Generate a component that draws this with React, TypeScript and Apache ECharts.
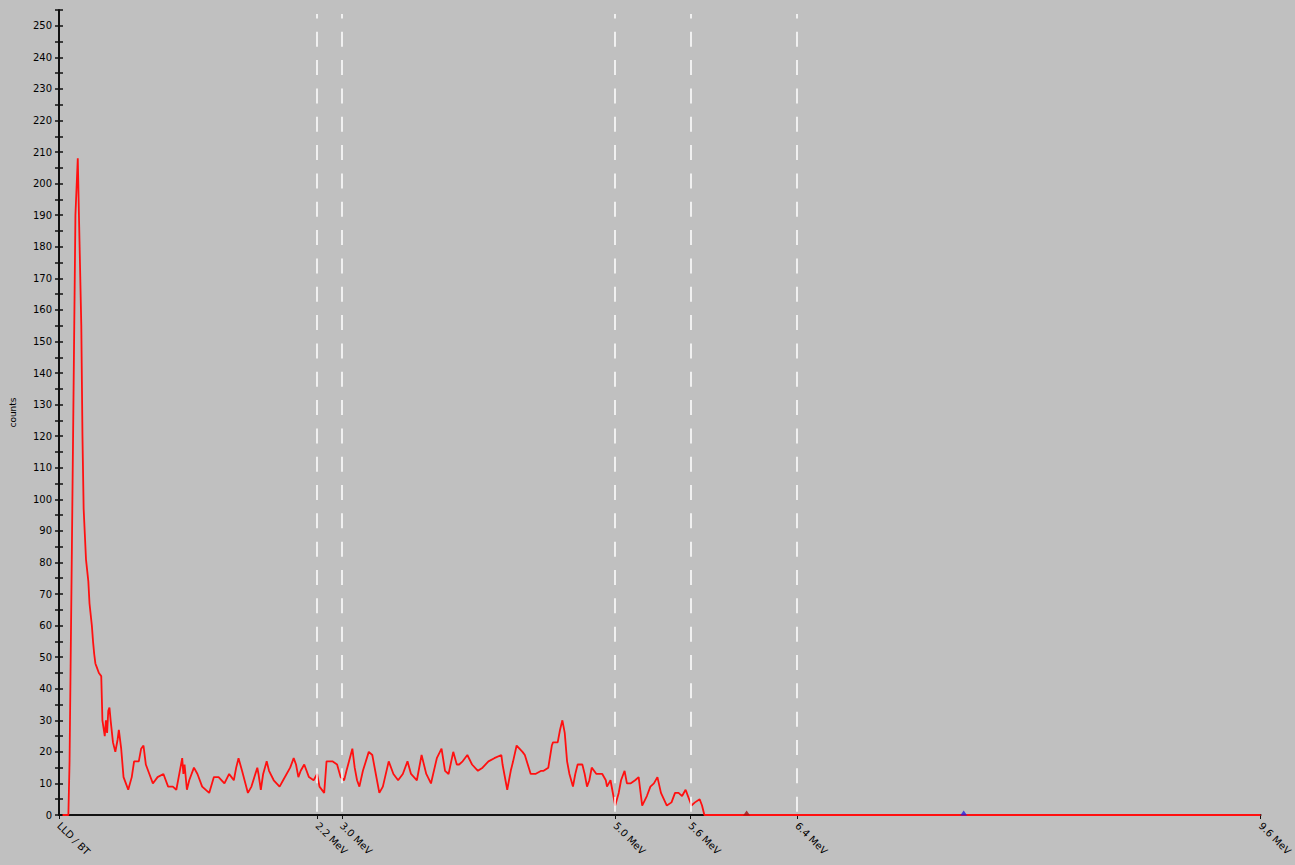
import React, { useEffect, useRef } from "react";
import * as echarts from "echarts";

// Spectrum channels (0..1024) and the counts recorded in each.
const channels = [
  3, 8, 9, 10, 11, 12, 13, 14, 16, 17, 19, 20, 21, 22, 23, 25, 26, 28, 29, 30,
  31, 32, 34, 36, 37, 39, 40, 41, 42, 43, 44, 46, 48, 50, 51, 53, 55, 57, 59, 62,
  64, 68, 70, 72, 74, 77, 80, 84, 89, 93, 97, 100, 102, 105, 106, 107, 109, 111, 115, 118,
  122, 128, 132, 136, 141, 145, 147, 149, 151, 153, 156, 161, 164, 169, 170, 172, 174, 177, 179, 183,
  188, 191, 197, 200, 202, 204, 206, 209, 213, 217, 220, 222, 226, 228, 233, 237, 240, 243, 245, 250,
  252, 254, 256, 259, 264, 267, 270, 273, 276, 281, 285, 289, 293, 297, 300, 305, 309, 313, 317, 322,
  326, 329, 332, 336, 339, 341, 344, 348, 352, 357, 361, 366, 371, 377, 378, 382, 385, 387, 390, 395,
  397, 402, 406, 411, 413, 417, 420, 421, 425, 427, 429, 431, 433, 435, 438, 440, 442, 446, 448, 450,
  452, 454, 458, 463, 466, 467, 470, 473, 474, 477, 479, 482, 484, 487, 491, 494, 497, 501, 504, 507,
  510, 513, 518, 522, 525, 528, 531, 534, 535, 537, 539, 542, 546, 548, 550, 1024,
];

const counts = [
  0, 0, 17, 51, 85, 120, 155, 190, 208, 190, 155, 120, 97, 89, 81, 74, 67, 60, 55, 51,
  48, 47, 45, 44, 30, 25, 30, 26, 33, 34, 30, 23, 20, 24, 27, 21, 12, 10, 8, 12,
  17, 17, 21, 22, 16, 13, 10, 12, 13, 9, 9, 8, 12, 18, 13, 16, 8, 11, 15, 13,
  9, 7, 12, 12, 10, 13, 12, 11, 15, 18, 14, 7, 9, 15, 13, 8, 13, 17, 14, 11,
  9, 11, 15, 18, 16, 12, 14, 16, 12, 11, 13, 9, 7, 17, 17, 16, 12, 11, 14, 21,
  15, 11, 9, 14, 20, 19, 13, 7, 9, 17, 13, 11, 13, 17, 13, 11, 19, 13, 10, 18,
  21, 14, 13, 20, 16, 16, 17, 19, 16, 14, 15, 17, 18, 19, 16, 8, 14, 17, 22, 20,
  19, 13, 13, 14, 14, 15, 22, 23, 23, 27, 30, 26, 17, 13, 9, 13, 16, 16, 13, 9,
  11, 15, 13, 13, 11, 9, 11, 5, 3, 7, 11, 14, 10, 10, 11, 12, 3, 6, 9, 10,
  12, 7, 3, 4, 7, 7, 6, 8, 7, 5, 3, 4, 5, 3, 0, 0,
];

// Energy window boundaries on the channel axis
const markChannels = [0, 220, 241, 474, 538, 629, 1024];
const markLabels = ["LLD / BT", "2.2 MeV", "3.0 MeV", "5.0 MeV", "5.6 MeV", "6.4 MeV", "9.6 MeV"];
const windowChannels = [220, 241, 474, 538, 629];

// Small peak markers sitting on the baseline
const peakChannels = [586, 771];
const peakCounts = [0, 0];
const peakColors = ["#a01010", "#2020e0"];

const FONT = "DejaVu Sans";

export default function App() {
  const ref = useRef<HTMLDivElement>(null);

  useEffect(() => {
    if (!ref.current) return;
    const chart = echarts.init(ref.current, undefined, { renderer: "svg" });

    const labelOf = (v: number) => {
      const i = markChannels.indexOf(v);
      return i >= 0 ? markLabels[i] : "";
    };

    const yCommon = {
      type: "value" as const,
      min: 0,
      max: 255,
      interval: 5,
      position: "left" as const,
      splitLine: { show: false },
    };

    chart.setOption({
      animation: false,
      backgroundColor: "#c0c0c0",
      grid: { left: 57, right: 30, top: 10, bottom: 50, containLabel: false },
      xAxis: {
        type: "value",
        min: 0,
        max: 1024,
        splitLine: { show: false },
        axisLine: { show: true, onZero: false, lineStyle: { color: "#111", width: 2 } },
        axisTick: {
          show: true,
          customValues: markChannels,
          length: 4,
          lineStyle: { color: "#111", width: 1 },
        },
        axisLabel: {
          show: true,
          customValues: markChannels,
          formatter: (v: number) => labelOf(v),
          rotate: -45,
          margin: 9,
          color: "#000",
          fontFamily: FONT,
          fontSize: 10,
          hideOverlap: false,
        },
      },
      yAxis: [
        {
          ...yCommon,
          name: "counts",
          nameLocation: "middle",
          nameRotate: 90,
          nameGap: 42,
          nameTextStyle: { color: "#000", fontFamily: FONT, fontSize: 9 },
          axisLine: { show: true, lineStyle: { color: "#111", width: 2 } },
          axisTick: { show: true, length: 4, lineStyle: { color: "#111", width: 1.5 } },
          axisLabel: {
            color: "#000",
            fontFamily: FONT,
            fontSize: 10,
            margin: 7,
            formatter: (v: number) => (v % 10 === 0 ? String(v) : ""),
          },
        },
        {
          ...yCommon,
          axisLine: { show: false },
          axisTick: { show: true, inside: true, length: 4, lineStyle: { color: "#111", width: 1.5 } },
          axisLabel: { show: false },
        },
      ],
      series: [
        {
          type: "line",
          data: channels.map((c, i) => [c, counts[i]]),
          yAxisIndex: 0,
          showSymbol: false,
          symbol: "none",
          lineStyle: { color: "#ff1010", width: 1.8 },
          z: 3,
          markLine: {
            silent: true,
            symbol: ["none", "none"],
            label: { show: false },
            lineStyle: {
              color: "#ffffff",
              width: 1.5,
              type: [15, 13.33],
              dashOffset: 25,
            },
            data: windowChannels.map((c) => [
              { coord: [c, 0] },
              { coord: [c, 253.7] },
            ]),
          },
        },
        {
          type: "scatter",
          yAxisIndex: 0,
          symbol: "triangle",
          symbolSize: [7, 5],
          symbolOffset: [0, -2],
          z: 4,
          data: peakChannels.map((c, i) => ({
            value: [c, peakCounts[i]],
            itemStyle: { color: peakColors[i] },
          })),
        },
      ],
    });

    return () => chart.dispose();
  }, []);

  return (
    <div
      ref={ref}
      style={{ position: "fixed", left: 0, top: 0, width: 1295, height: 865, background: "#c0c0c0" }}
    />
  );
}
